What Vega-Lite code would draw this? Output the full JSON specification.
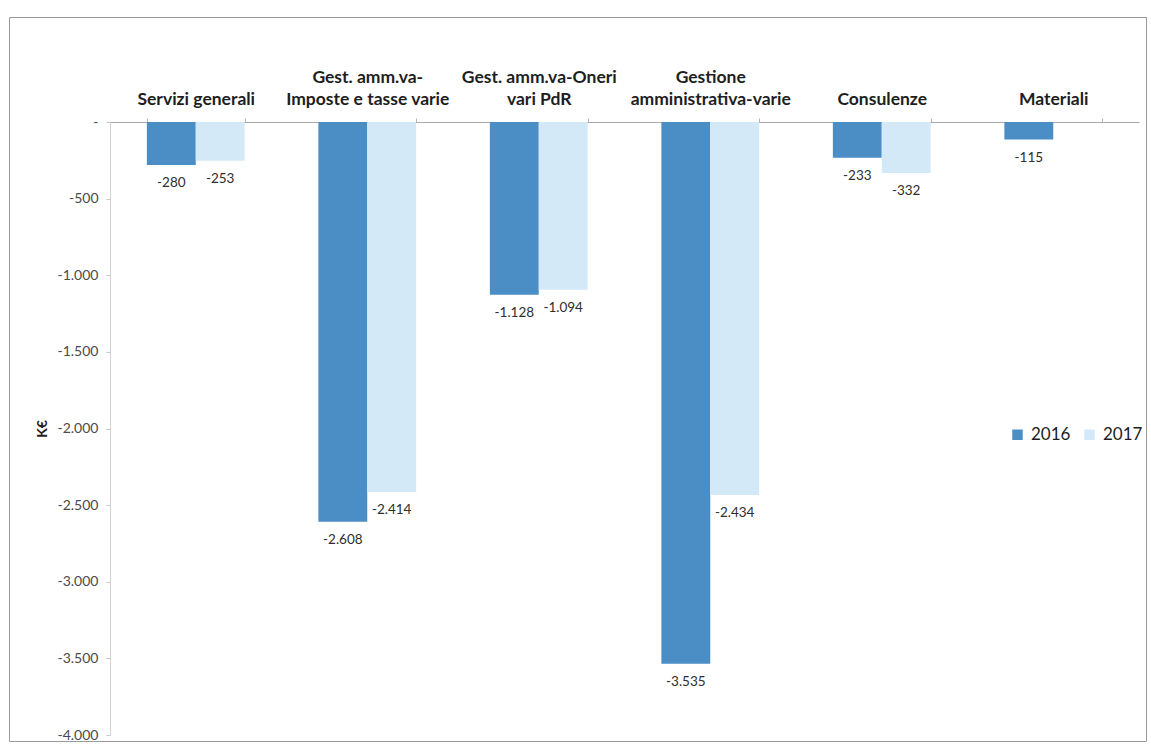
{
  "$schema": "https://vega.github.io/schema/vega-lite/v6.json",
  "autosize": {"type": "none"},
  "width": 1137,
  "height": 724,
  "padding": {"left": 9, "top": 17, "right": 5, "bottom": 8},
  "background": "white",
  "config": {
    "font": "Lato",
    "view": {"stroke": "#9a9a9a", "strokeWidth": 1},
    "locale": {
      "number": {
        "decimal": ",",
        "thousands": ".",
        "grouping": [3],
        "currency": ["", " €"],
        "minus": "-"
      }
    }
  },
  "data": {
    "values": [
      {"categoria": "Servizi generali", "anno": "2016", "valore": -280},
      {"categoria": "Servizi generali", "anno": "2017", "valore": -253},
      {"categoria": "Gest. amm.va-Imposte e tasse varie", "anno": "2016", "valore": -2608},
      {"categoria": "Gest. amm.va-Imposte e tasse varie", "anno": "2017", "valore": -2414},
      {"categoria": "Gest. amm.va-Oneri vari PdR", "anno": "2016", "valore": -1128},
      {"categoria": "Gest. amm.va-Oneri vari PdR", "anno": "2017", "valore": -1094},
      {"categoria": "Gestione amministrativa-varie", "anno": "2016", "valore": -3535},
      {"categoria": "Gestione amministrativa-varie", "anno": "2017", "valore": -2434},
      {"categoria": "Consulenze", "anno": "2016", "valore": -233},
      {"categoria": "Consulenze", "anno": "2017", "valore": -332},
      {"categoria": "Materiali", "anno": "2016", "valore": -115}
    ]
  },
  "encoding": {
    "x": {
      "field": "categoria",
      "type": "nominal",
      "sort": null,
      "scale": {"range": [101, 1130], "paddingInner": 0.43, "paddingOuter": 0.215},
      "axis": {
        "orient": "top",
        "offset": -105,
        "title": null,
        "labelAngle": 0,
        "labelFont": "Lato",
        "labelFontSize": 17.5,
        "labelFontWeight": "bold",
        "labelColor": "#1e1e1e",
        "labelPadding": 32,
        "labelLineHeight": 22,
        "labelExpr": "datum.label == 'Gest. amm.va-Imposte e tasse varie' ? ['Gest. amm.va-', 'Imposte e tasse varie'] : datum.label == 'Gest. amm.va-Oneri vari PdR' ? ['Gest. amm.va-Oneri', 'vari PdR'] : datum.label == 'Gestione amministrativa-varie' ? ['Gestione', 'amministrativa-varie'] : ['', datum.label]",
        "domainColor": "#a8a8a8",
        "domainWidth": 1,
        "ticks": true,
        "tickBand": "extent",
        "tickColor": "#b5b5b5",
        "tickSize": 4
      }
    },
    "xOffset": {"field": "anno", "type": "nominal", "scale": {"paddingInner": 0, "paddingOuter": 0}},
    "y": {
      "field": "valore",
      "type": "quantitative",
      "scale": {"domain": [-4000, 0], "range": [718, 105], "nice": false, "zero": false},
      "axis": {
        "orient": "left",
        "offset": -101,
        "title": "K€",
        "titleFont": "Lato",
        "titleFontSize": 14,
        "titleFontWeight": "bold",
        "titleColor": "#1e1e1e",
        "titlePadding": 8,
        "values": [0, -500, -1000, -1500, -2000, -2500, -3000, -3500, -4000],
        "labelExpr": "datum.value == 0 ? '-' : format(datum.value, ',')",
        "labelFont": "Lato",
        "labelFontSize": 14,
        "labelColor": "#4a4a4a",
        "labelPadding": 8,
        "grid": false,
        "domainColor": "#d0d0d0",
        "tickColor": "#c8c8c8",
        "tickSize": 4
      }
    }
  },
  "layer": [
    {
      "mark": {"type": "bar"},
      "encoding": {
        "color": {
          "field": "anno",
          "type": "nominal",
          "scale": {"domain": ["2016", "2017"], "range": ["#4b8dc5", "#d4e9f7"]},
          "legend": {
            "orient": "none",
            "legendX": 1000,
            "legendY": 409,
            "direction": "horizontal",
            "title": null,
            "symbolType": "square",
            "symbolSize": 110,
            "symbolStrokeWidth": 0,
            "labelFont": "Lato",
            "labelFontSize": 17,
            "labelColor": "#1e1e1e",
            "labelOffset": 5,
            "columnPadding": 10
          }
        }
      }
    },
    {
      "mark": {
        "type": "text",
        "baseline": "top",
        "align": "center",
        "dy": 11,
        "font": "Lato",
        "fontSize": 13.5,
        "color": "#2e2e2e"
      },
      "encoding": {
        "text": {"field": "valore", "type": "quantitative", "format": ","}
      }
    }
  ]
}
